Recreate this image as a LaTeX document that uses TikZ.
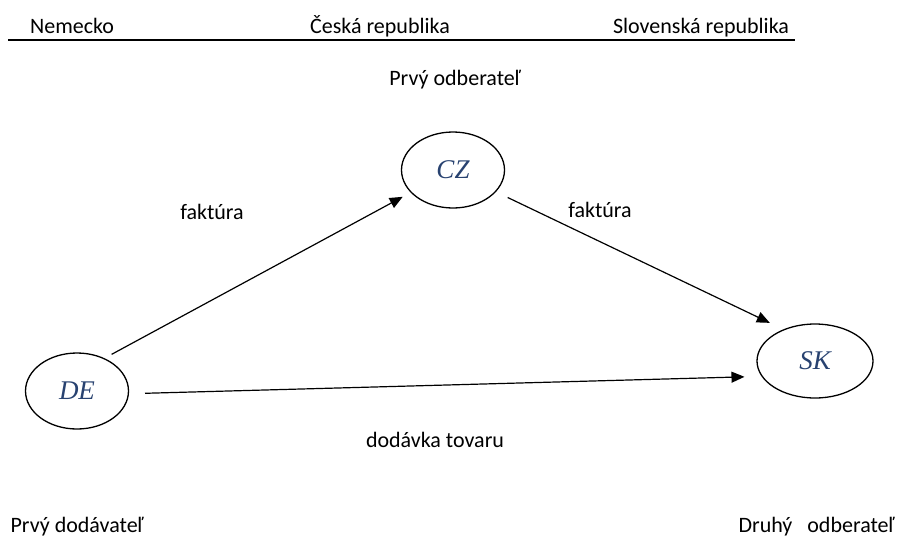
\documentclass[tikz,border=0pt]{standalone}
\usepackage{fontspec}
\setmainfont{Carlito}
\newfontfamily\timesfont{Liberation Serif}
\usepackage{tikz}
\usetikzlibrary{shapes.geometric}
\usetikzlibrary{arrows.meta}
\usetikzlibrary{positioning}
\definecolor{landtext}{RGB}{40,66,112}

\begin{document}
\begin{tikzpicture}[x=1pt,y=-1pt,>={Triangle[length=13pt,width=11pt]},
	every node/.style={font=\fontsize{22}{26}\selectfont},
	land/.style={draw, ellipse, line width=1.3pt, minimum width=103pt, minimum height=76pt,
		inner sep=0pt, font=\fontsize{27}{30}\timesfont\itshape, text=landtext}]
	     \useasboundingbox (0,0) rectangle (907,552);

	     % header
	     \node[anchor=base] (nemecko) at (72,33) {Nemecko};
	     \node[anchor=base] (cesko) at (380,33) {Česká republika};
	     \node[anchor=base] (slovensko) at (701,33) {Slovenská republika};
	     \coordinate (head_l) at (8,40);
	     \coordinate (head_r) at (795,40);
	     \draw[line width=1.5pt] (head_l) -- (head_r);

	     \node (first_buyer) at (455,80) {Prvý odberateľ};
	     \node[land] (CZ) at (453,170) {CZ};
	     \node[land] (DE) at (77,391) {DE};
	     \node[land, minimum width=116pt, minimum height=74pt] (SK) at (815,361) {SK};

	     \node (inv_l) at (212,212) {faktúra};
	     \node (inv_r) at (600,210) {faktúra};
	     \node (delivery) at (435,440) {dodávka tovaru};
	     \node[anchor=west] (first_supplier) at (7,527) {Prvý dodávateľ};
	     \node[anchor=east] (second_buyer) at (898,527) {Druhý\ \ \ odberateľ};

	     \path[->, line width=1.2pt]
		(DE.50) edge [shorten <=8pt, shorten >=9pt] (CZ.208)
		(CZ.-27) edge [shorten <=13pt, shorten >=15pt] (SK.135)
		(DE.-3) edge [shorten <=16pt, shorten >=17pt] (SK.196)
	      ;
\end{tikzpicture}
\end{document}
